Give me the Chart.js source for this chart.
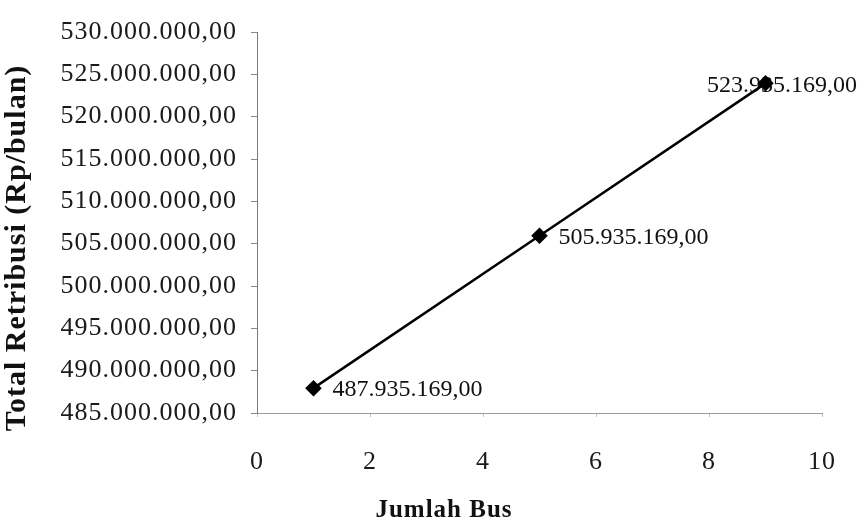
<!DOCTYPE html>
<html>
<head>
<meta charset="utf-8">
<title>Total Retribusi vs Jumlah Bus</title>
<script src="https://cdn.jsdelivr.net/npm/chart.js@4/dist/chart.umd.min.js"></script>
<style>
  html, body { margin: 0; padding: 0; background: #ffffff; }
  #wrap { width: 865px; height: 529px; }
</style>
</head>
<body>
<div id="wrap"><canvas id="chart" width="865" height="529"></canvas></div>
<script>
// Number of buses and the resulting monthly levy (Rp)
const jumlahBus = [1, 5, 9];
const totalRetribusi = [487935169, 505935169, 523935169];

// Axis ranges
const xTickValues = [0, 2, 4, 6, 8, 10];
const yTickValues = [485000000, 490000000, 495000000, 500000000, 505000000,
                     510000000, 515000000, 520000000, 525000000, 530000000];

const SERIF = '"Liberation Serif", "Times New Roman", Times, serif';

// Indonesian number style: 523.935.169,00
function formatRp(v) {
  const parts = Number(v).toFixed(2).split('.');
  return parts[0].replace(/\B(?=(\d{3})+(?!\d))/g, '.') + ',' + parts[1];
}

// Slightly spaced lettering for axis texts, plain spacing for value labels
const spacingPlugin = {
  id: 'letterSpacing',
  beforeDraw(chart) { chart.ctx.letterSpacing = '1px'; },
  beforeDatasetsDraw(chart) { chart.ctx.letterSpacing = '0px'; },
  afterDraw(chart) { chart.ctx.letterSpacing = '0px'; }
};

// Value labels to the right of each point, kept inside the canvas
const valueLabels = {
  id: 'valueLabels',
  beforeDatasetsDraw(chart) {
    const ctx = chart.ctx;
    const meta = chart.getDatasetMeta(0);
    const values = chart.data.datasets[0].data;
    ctx.save();
    ctx.letterSpacing = '0px';
    ctx.font = '24px ' + SERIF;
    ctx.fillStyle = '#111111';
    ctx.textAlign = 'left';
    ctx.textBaseline = 'middle';
    meta.data.forEach((pt, i) => {
      const text = formatRp(values[i].y);
      const w = ctx.measureText(text).width;
      const x = Math.min(pt.x + 19, chart.width - 8 - w);
      ctx.fillText(text, x, pt.y + 2);
    });
    ctx.restore();
  }
};

const points = jumlahBus.map((x, i) => ({ x: x, y: totalRetribusi[i] }));

new Chart(document.getElementById('chart'), {
  type: 'line',
  data: {
    datasets: [{
      label: 'Total Retribusi',
      data: points,
      borderColor: '#000000',
      backgroundColor: '#000000',
      borderWidth: 2.5,
      pointStyle: 'rectRot',
      pointRadius: 6.5,
      pointHoverRadius: 6.5,
      pointBackgroundColor: '#000000',
      pointBorderColor: '#000000',
      tension: 0,
      yAxisID: 'y'
    }]
  },
  options: {
    responsive: false,
    animation: false,
    events: [],
    layout: { padding: { left: 23, right: 0, top: 32, bottom: 0 } },
    plugins: {
      legend: { display: false },
      tooltip: { enabled: false },
      title: {
        display: true,
        position: 'bottom',
        text: 'Jumlah Bus',
        color: '#111111',
        font: { family: SERIF, size: 25, weight: 'bold', lineHeight: 1.2 },
        padding: { top: 0, bottom: 3 }
      }
    },
    scales: {
      x: {
        type: 'linear',
        min: 0,
        max: 10,
        afterBuildTicks(scale) { scale.ticks = xTickValues.map(v => ({ value: v })); },
        afterFit(scale) { scale.height = 83; },
        border: { display: true, color: '#9c9c9c', width: 1, dash: [12, 3, 3, 3] },
        grid: { display: true, drawOnChartArea: false, drawTicks: true, tickLength: 4, color: '#c4c4c4' },
        ticks: {
          color: '#1a1a1a',
          padding: 30,
          maxRotation: 0,
          font: { family: SERIF, size: 26, lineHeight: 1.2 }
        }
      },
      y: {
        type: 'linear',
        position: 'left',
        min: 485000000,
        max: 530000000,
        afterBuildTicks(scale) { scale.ticks = yTickValues.map(v => ({ value: v })); },
        afterFit(scale) { scale.width = 234; },
        border: { display: true, color: '#7a7a7a', width: 1 },
        grid: { display: true, drawOnChartArea: false, drawTicks: true, tickLength: 6, color: '#8a8a8a' },
        ticks: {
          color: '#1a1a1a',
          padding: 14,
          autoSkip: false,
          font: { family: SERIF, size: 26, lineHeight: 1.2 },
          callback: (v) => formatRp(v)
        },
        title: {
          display: true,
          text: 'Total Retribusi (Rp/bulan)      ',
          color: '#111111',
          font: { family: SERIF, size: 30, weight: 'bold', lineHeight: 1.2 },
          padding: { top: -24, bottom: 0 }
        }
      },
      yRight: {
        type: 'linear',
        position: 'right',
        display: true,
        afterFit(scale) { scale.width = 43; },
        border: { display: false },
        grid: { display: false },
        ticks: { display: false }
      }
    }
  },
  plugins: [spacingPlugin, valueLabels]
});
</script>
</body>
</html>
